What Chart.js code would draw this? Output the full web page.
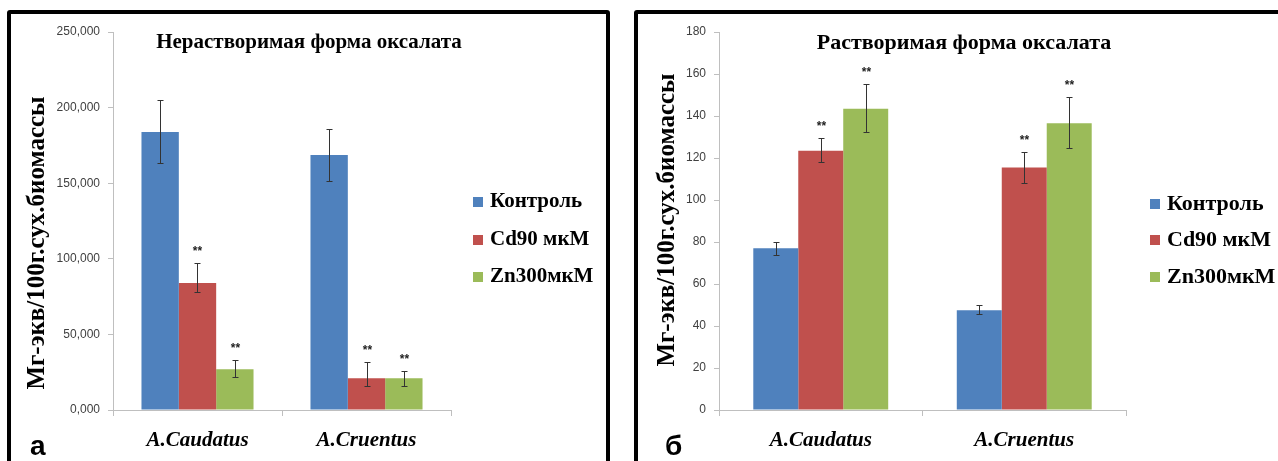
<!DOCTYPE html>
<html>
<head>
<meta charset="utf-8">
<script src="https://cdn.jsdelivr.net/npm/chart.js@4.4.1/dist/chart.umd.min.js"></script>
<style>
  body { margin: 0; background: #fff; width: 1278px; height: 461px; overflow: hidden; position: relative; }
  .frame { position: absolute; top: 10px; height: 470px; border: 4px solid #000; border-radius: 3px; box-sizing: border-box; }
  #f1 { left: 7px; width: 603px; }
  #f2 { left: 634px; width: 700px; }
  .wrap { position: absolute; top: 0; height: 461px; }
  #w1 { left: 0; width: 620px; }
  #w2 { left: 620px; width: 658px; }
</style>
</head>
<body>
<div class="frame" id="f1"></div>
<div class="frame" id="f2"></div>
<div class="wrap" id="w1"><canvas id="insol"></canvas></div>
<div class="wrap" id="w2"><canvas id="sol"></canvas></div>
<script>
const categories = ['A.Caudatus', 'A.Cruentus'];
const seriesNames = ['Контроль', 'Cd90 мкМ', 'Zn300мкМ'];
const colors = ['#4F81BD', '#C0504D', '#9BBB59'];

// Нерастворимая форма (left)
const insolControl = [183800, 168600];
const insolCd = [84000, 21000];
const insolZn = [27000, 21000];
const insolControlUp = [21000, 17200];
const insolControlDown = [20500, 17100];
const insolCdUp = [13200, 10700];
const insolCdDown = [6000, 5200];
const insolZnUp = [6000, 4800];
const insolZnDown = [5200, 5200];
const insolTicks = ['0,000', '50,000', '100,000', '150,000', '200,000', '250,000'];

// Растворимая форма (right)
const solControl = [77, 47.5];
const solCd = [123.5, 115.5];
const solZn = [143.5, 136.5];
const solControlUp = [3.2, 2.5];
const solControlDown = [3, 1.9];
const solCdUp = [6, 7.2];
const solCdDown = [5.5, 7.5];
const solZnUp = [11.7, 12.5];
const solZnDown = [11.3, 11.5];
const solTicks = ['0', '20', '40', '60', '80', '100', '120', '140', '160', '180'];

const serif = '"Liberation Serif", "Times New Roman", serif';
const sans = '"Liberation Sans", Arial, sans-serif';

const extras = {
  id: 'extras',
  afterDatasetsDraw(chart, args, o) {
    const ctx = chart.ctx;
    const y = chart.scales.y;
    ctx.save();
    // error bars and stars
    chart.data.datasets.forEach((ds, i) => {
      chart.getDatasetMeta(i).data.forEach((bar, j) => {
        const v = ds.data[j];
        const top = Math.round(y.getPixelForValue(v + ds.errUp[j])) + 0.5;
        const bot = Math.round(y.getPixelForValue(v - ds.errDown[j])) + 0.5;
        const x = Math.round(bar.x) + 0.5;
        ctx.strokeStyle = '#333';
        ctx.lineWidth = 1;
        ctx.beginPath();
        ctx.moveTo(x, top); ctx.lineTo(x, bot);
        ctx.moveTo(x - 3, top); ctx.lineTo(x + 3, top);
        ctx.moveTo(x - 3, bot); ctx.lineTo(x + 3, bot);
        ctx.stroke();
        if (ds.stars) {
          ctx.fillStyle = '#222';
          ctx.font = 'bold 12px ' + sans;
          ctx.textAlign = 'center';
          ctx.textBaseline = 'middle';
          ctx.fillText('**', x, top - 12);
        }
      });
    });
    // title
    ctx.fillStyle = '#000';
    ctx.font = 'bold ' + o.titleSize + 'px ' + serif;
    ctx.textAlign = 'center';
    ctx.textBaseline = 'middle';
    ctx.fillText(o.title, o.titleX, o.titleY);
    // y axis title
    ctx.save();
    ctx.translate(o.yTitleX, o.yTitleY);
    ctx.rotate(-Math.PI / 2);
    ctx.font = 'bold 25px ' + serif;
    ctx.fillText('Мг-экв/100г.сух.биомассы', 0, 0);
    ctx.restore();
    // legend
    chart.data.datasets.forEach((ds, i) => {
      const ly = o.legendY[i];
      ctx.fillStyle = ds.backgroundColor;
      ctx.fillRect(o.legendX, ly - 5, 10, 10);
      ctx.fillStyle = '#000';
      ctx.font = 'bold ' + o.legendSize + 'px ' + serif;
      ctx.textAlign = 'left';
      ctx.fillText(ds.label, o.legendX + 17, ly);
    });
    // panel letter
    ctx.font = 'bold 28px ' + sans;
    ctx.textBaseline = 'alphabetic';
    ctx.fillText(o.letter, o.letterX, 455);
    ctx.restore();
  }
};

function makeChart(id, sets, tickLabels, yMax, step, yWidth, padRight, o) {
  const datasets = sets.map((s, i) => ({
    label: seriesNames[i],
    data: s.data,
    errUp: s.up,
    errDown: s.down,
    stars: i > 0,
    backgroundColor: colors[i],
    categoryPercentage: 0.663,
    barPercentage: 1
  }));
  return new Chart(document.getElementById(id), {
    type: 'bar',
    data: { labels: categories, datasets: datasets },
    options: {
      responsive: true,
      maintainAspectRatio: false,
      animation: false,
      layout: { padding: { left: 0, right: padRight, top: 32, bottom: 0 } },
      plugins: { legend: { display: false }, tooltip: { enabled: false }, extras: o },
      scales: {
        x: {
          grid: { display: true, drawOnChartArea: false, offset: true, tickLength: 6, color: '#bfbfbf' },
          border: { color: '#bfbfbf' },
          ticks: { color: '#000', padding: 12, font: { family: serif, size: 21, weight: 'bold', style: 'italic' } },
          afterFit(scale) { scale.height = 51; }
        },
        y: {
          min: 0,
          max: yMax,
          grid: { display: true, drawOnChartArea: false, tickLength: 5, color: '#bfbfbf' },
          border: { color: '#bfbfbf' },
          ticks: {
            stepSize: step,
            color: '#404040',
            padding: 8,
            font: { family: sans, size: 12 },
            callback: (v, i) => tickLabels[i]
          },
          afterFit(scale) { scale.width = yWidth; }
        }
      }
    },
    plugins: [extras]
  });
}

makeChart('insol', [
  { data: insolControl, up: insolControlUp, down: insolControlDown },
  { data: insolCd, up: insolCdUp, down: insolCdDown },
  { data: insolZn, up: insolZnUp, down: insolZnDown }
], insolTicks, 250000, 50000, 113, 169, {
  title: 'Нерастворимая форма оксалата', titleX: 309, titleY: 43, titleSize: 21,
  yTitleX: 38, yTitleY: 243,
  legendX: 473, legendY: [202, 240, 277], legendSize: 21,
  letter: 'а', letterX: 30
});

makeChart('sol', [
  { data: solControl, up: solControlUp, down: solControlDown },
  { data: solCd, up: solCdUp, down: solCdDown },
  { data: solZn, up: solZnUp, down: solZnDown }
], solTicks, 180, 20, 99, 152, {
  title: 'Растворимая форма оксалата', titleX: 344, titleY: 43, titleSize: 22,
  yTitleX: 48, yTitleY: 220,
  legendX: 530, legendY: [204, 240, 277], legendSize: 22,
  letter: 'б', letterX: 45
});
</script>
</body>
</html>
